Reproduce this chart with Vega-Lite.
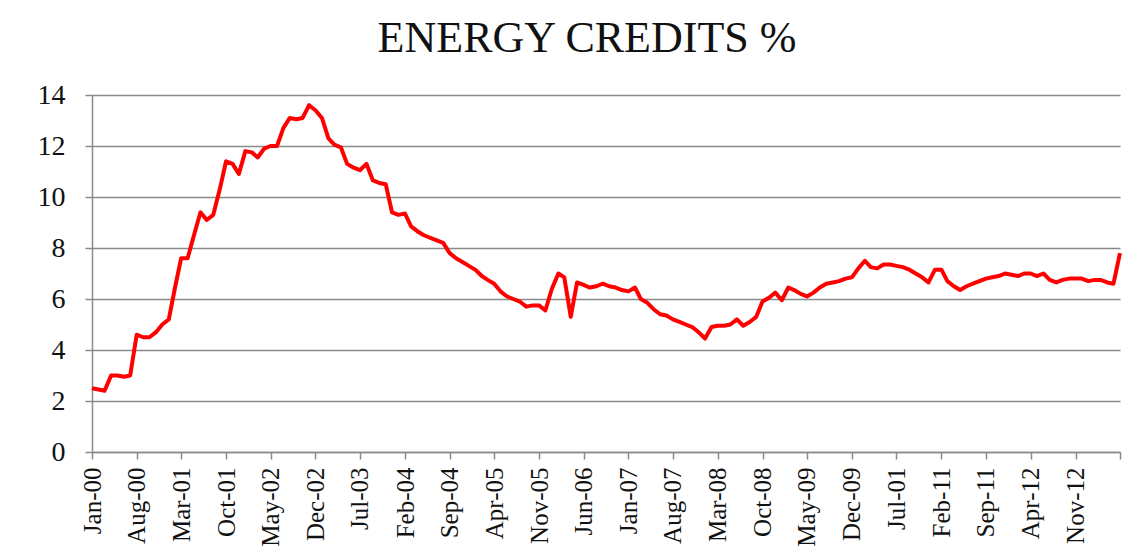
{
  "$schema": "https://vega.github.io/schema/vega-lite/v6.json",
  "autosize": {"type": "none"},
  "width": 1028,
  "height": 357,
  "padding": {"top": 95, "left": 92, "right": 19, "bottom": 107},
  "background": "white",
  "title": {
    "text": "ENERGY CREDITS %",
    "font": "Liberation Serif",
    "fontSize": 44,
    "fontWeight": "normal",
    "color": "#111111",
    "anchor": "middle",
    "dx": -19,
    "offset": 20
  },
  "config": {
    "view": {"stroke": null},
    "axis": {
      "labelFont": "Liberation Serif",
      "labelColor": "#111111",
      "domainColor": "#8a8a8a",
      "domainWidth": 1.5,
      "tickColor": "#8a8a8a",
      "tickWidth": 1.5,
      "gridColor": "#8a8a8a",
      "gridWidth": 1.5,
      "title": null
    }
  },
  "data": {
    "format": {"parse": {"m": "date:'%Y-%m'"}},
    "values": [
      {"m": "2000-01", "v": 2.5}, {"m": "2000-02", "v": 2.45}, {"m": "2000-03", "v": 2.4}, {"m": "2000-04", "v": 3.0},
      {"m": "2000-05", "v": 3.0}, {"m": "2000-06", "v": 2.95}, {"m": "2000-07", "v": 3.0}, {"m": "2000-08", "v": 4.6},
      {"m": "2000-09", "v": 4.5}, {"m": "2000-10", "v": 4.5}, {"m": "2000-11", "v": 4.7}, {"m": "2000-12", "v": 5.0},
      {"m": "2001-01", "v": 5.2}, {"m": "2001-02", "v": 6.5}, {"m": "2001-03", "v": 7.6}, {"m": "2001-04", "v": 7.6},
      {"m": "2001-05", "v": 8.5}, {"m": "2001-06", "v": 9.4}, {"m": "2001-07", "v": 9.1}, {"m": "2001-08", "v": 9.3},
      {"m": "2001-09", "v": 10.3}, {"m": "2001-10", "v": 11.4}, {"m": "2001-11", "v": 11.3}, {"m": "2001-12", "v": 10.9},
      {"m": "2002-01", "v": 11.8}, {"m": "2002-02", "v": 11.75}, {"m": "2002-03", "v": 11.55}, {"m": "2002-04", "v": 11.9},
      {"m": "2002-05", "v": 12.0}, {"m": "2002-06", "v": 12.0}, {"m": "2002-07", "v": 12.7}, {"m": "2002-08", "v": 13.1},
      {"m": "2002-09", "v": 13.05}, {"m": "2002-10", "v": 13.1}, {"m": "2002-11", "v": 13.6}, {"m": "2002-12", "v": 13.4},
      {"m": "2003-01", "v": 13.1}, {"m": "2003-02", "v": 12.3}, {"m": "2003-03", "v": 12.05}, {"m": "2003-04", "v": 11.95},
      {"m": "2003-05", "v": 11.3}, {"m": "2003-06", "v": 11.15}, {"m": "2003-07", "v": 11.05}, {"m": "2003-08", "v": 11.3},
      {"m": "2003-09", "v": 10.65}, {"m": "2003-10", "v": 10.55}, {"m": "2003-11", "v": 10.5}, {"m": "2003-12", "v": 9.4},
      {"m": "2004-01", "v": 9.3}, {"m": "2004-02", "v": 9.35}, {"m": "2004-03", "v": 8.85}, {"m": "2004-04", "v": 8.65},
      {"m": "2004-05", "v": 8.5}, {"m": "2004-06", "v": 8.4}, {"m": "2004-07", "v": 8.3}, {"m": "2004-08", "v": 8.2},
      {"m": "2004-09", "v": 7.8}, {"m": "2004-10", "v": 7.6}, {"m": "2004-11", "v": 7.45}, {"m": "2004-12", "v": 7.3},
      {"m": "2005-01", "v": 7.15}, {"m": "2005-02", "v": 6.9}, {"m": "2005-03", "v": 6.75}, {"m": "2005-04", "v": 6.6},
      {"m": "2005-05", "v": 6.3}, {"m": "2005-06", "v": 6.1}, {"m": "2005-07", "v": 6.0}, {"m": "2005-08", "v": 5.9},
      {"m": "2005-09", "v": 5.7}, {"m": "2005-10", "v": 5.75}, {"m": "2005-11", "v": 5.75}, {"m": "2005-12", "v": 5.55},
      {"m": "2006-01", "v": 6.4}, {"m": "2006-02", "v": 7.0}, {"m": "2006-03", "v": 6.85}, {"m": "2006-04", "v": 5.3},
      {"m": "2006-05", "v": 6.65}, {"m": "2006-06", "v": 6.55}, {"m": "2006-07", "v": 6.45}, {"m": "2006-08", "v": 6.5},
      {"m": "2006-09", "v": 6.6}, {"m": "2006-10", "v": 6.5}, {"m": "2006-11", "v": 6.45}, {"m": "2006-12", "v": 6.35},
      {"m": "2007-01", "v": 6.3}, {"m": "2007-02", "v": 6.45}, {"m": "2007-03", "v": 6.0}, {"m": "2007-04", "v": 5.85},
      {"m": "2007-05", "v": 5.6}, {"m": "2007-06", "v": 5.4}, {"m": "2007-07", "v": 5.35}, {"m": "2007-08", "v": 5.2},
      {"m": "2007-09", "v": 5.1}, {"m": "2007-10", "v": 5.0}, {"m": "2007-11", "v": 4.9}, {"m": "2007-12", "v": 4.7},
      {"m": "2008-01", "v": 4.45}, {"m": "2008-02", "v": 4.9}, {"m": "2008-03", "v": 4.95}, {"m": "2008-04", "v": 4.95},
      {"m": "2008-05", "v": 5.0}, {"m": "2008-06", "v": 5.2}, {"m": "2008-07", "v": 4.95}, {"m": "2008-08", "v": 5.1},
      {"m": "2008-09", "v": 5.3}, {"m": "2008-10", "v": 5.9}, {"m": "2008-11", "v": 6.05}, {"m": "2008-12", "v": 6.25},
      {"m": "2009-01", "v": 5.95}, {"m": "2009-02", "v": 6.45}, {"m": "2009-03", "v": 6.35}, {"m": "2009-04", "v": 6.2},
      {"m": "2009-05", "v": 6.1}, {"m": "2009-06", "v": 6.25}, {"m": "2009-07", "v": 6.45}, {"m": "2009-08", "v": 6.6},
      {"m": "2009-09", "v": 6.65}, {"m": "2009-10", "v": 6.7}, {"m": "2009-11", "v": 6.8}, {"m": "2009-12", "v": 6.85},
      {"m": "2010-01", "v": 7.2}, {"m": "2010-02", "v": 7.5}, {"m": "2010-03", "v": 7.25}, {"m": "2010-04", "v": 7.2},
      {"m": "2010-05", "v": 7.35}, {"m": "2010-06", "v": 7.35}, {"m": "2010-07", "v": 7.3}, {"m": "2010-08", "v": 7.25},
      {"m": "2010-09", "v": 7.15}, {"m": "2010-10", "v": 7.0}, {"m": "2010-11", "v": 6.85}, {"m": "2010-12", "v": 6.65},
      {"m": "2011-01", "v": 7.15}, {"m": "2011-02", "v": 7.15}, {"m": "2011-03", "v": 6.7}, {"m": "2011-04", "v": 6.5},
      {"m": "2011-05", "v": 6.35}, {"m": "2011-06", "v": 6.5}, {"m": "2011-07", "v": 6.6}, {"m": "2011-08", "v": 6.7},
      {"m": "2011-09", "v": 6.8}, {"m": "2011-10", "v": 6.85}, {"m": "2011-11", "v": 6.9}, {"m": "2011-12", "v": 7.0},
      {"m": "2012-01", "v": 6.95}, {"m": "2012-02", "v": 6.9}, {"m": "2012-03", "v": 7.0}, {"m": "2012-04", "v": 7.0},
      {"m": "2012-05", "v": 6.9}, {"m": "2012-06", "v": 7.0}, {"m": "2012-07", "v": 6.75}, {"m": "2012-08", "v": 6.65},
      {"m": "2012-09", "v": 6.75}, {"m": "2012-10", "v": 6.8}, {"m": "2012-11", "v": 6.8}, {"m": "2012-12", "v": 6.8},
      {"m": "2013-01", "v": 6.7}, {"m": "2013-02", "v": 6.75}, {"m": "2013-03", "v": 6.75}, {"m": "2013-04", "v": 6.65},
      {"m": "2013-05", "v": 6.6}, {"m": "2013-06", "v": 7.8}
    ]
  },
  "mark": {"type": "line", "color": "#ff0000", "strokeWidth": 4, "strokeJoin": "round"},
  "encoding": {
    "x": {
      "field": "m",
      "type": "temporal",
      "scale": {"domain": [{"year": 2000, "month": 1, "date": 1}, {"year": 2013, "month": 6, "date": 1}]},
      "axis": {
        "grid": false,
        "values": [
          {"year": 2000, "month": 1, "date": 1}, {"year": 2000, "month": 8, "date": 1},
          {"year": 2001, "month": 3, "date": 1}, {"year": 2001, "month": 10, "date": 1},
          {"year": 2002, "month": 5, "date": 1}, {"year": 2002, "month": 12, "date": 1},
          {"year": 2003, "month": 7, "date": 1}, {"year": 2004, "month": 2, "date": 1},
          {"year": 2004, "month": 9, "date": 1}, {"year": 2005, "month": 4, "date": 1},
          {"year": 2005, "month": 11, "date": 1}, {"year": 2006, "month": 6, "date": 1},
          {"year": 2007, "month": 1, "date": 1}, {"year": 2007, "month": 8, "date": 1},
          {"year": 2008, "month": 3, "date": 1}, {"year": 2008, "month": 10, "date": 1},
          {"year": 2009, "month": 5, "date": 1}, {"year": 2009, "month": 12, "date": 1},
          {"year": 2010, "month": 7, "date": 1}, {"year": 2011, "month": 2, "date": 1},
          {"year": 2011, "month": 9, "date": 1}, {"year": 2012, "month": 4, "date": 1},
          {"year": 2012, "month": 11, "date": 1}, {"year": 2013, "month": 6, "date": 1}
        ],
        "labelExpr": "year(datum.value) == 2013 ? '' : (timeFormat(datum.value, '%b-%y') == 'Jul-10' ? 'Jul-01' : timeFormat(datum.value, '%b-%y'))",
        "labelAngle": -90,
        "labelFontSize": 25,
        "labelPadding": 8,
        "tickSize": 7,
        "labelOverlap": false,
        "labelFlush": false
      }
    },
    "y": {
      "field": "v",
      "type": "quantitative",
      "scale": {"domain": [0, 14], "nice": false, "zero": true},
      "axis": {
        "values": [0, 2, 4, 6, 8, 10, 12, 14],
        "grid": true,
        "labelFontSize": 28,
        "labelPadding": 20,
        "tickSize": 7
      }
    }
  }
}
